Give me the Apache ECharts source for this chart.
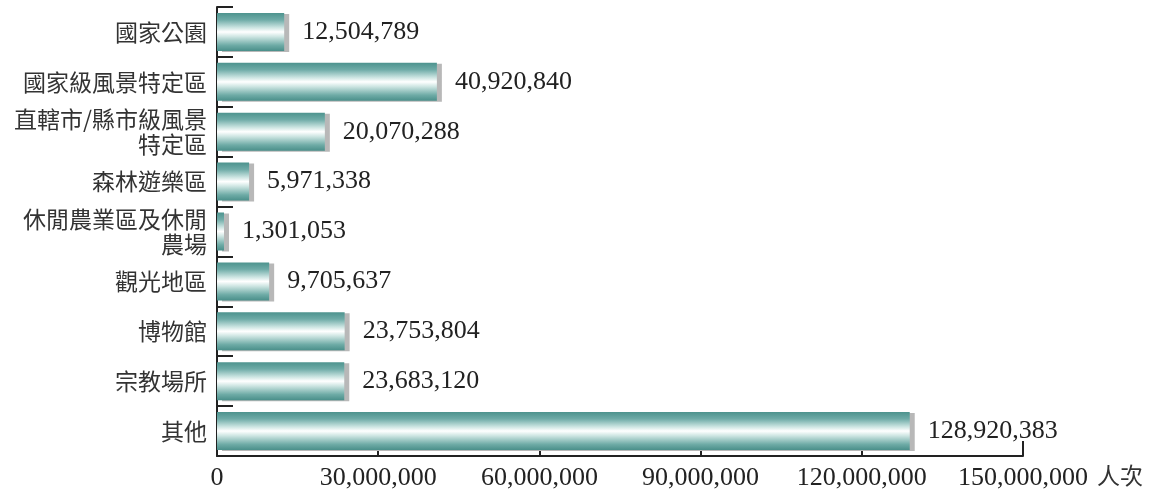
<!DOCTYPE html>
<html>
<head>
<meta charset="utf-8">
<script src="https://cdn.jsdelivr.net/npm/echarts@6/dist/echarts.min.js"></script>
<style>
html,body{margin:0;padding:0;background:#fff;}
#c{width:1151px;height:497px;}
</style>
</head>
<body>
<div id="c"></div>
<script>
const categories = ['國家公園', '國家級風景特定區', '直轄市/縣市級風景\n特定區', '森林遊樂區', '休閒農業區及休閒\n農場', '觀光地區', '博物館', '宗教場所', '其他'];
const visitors = [12504789, 40920840, 20070288, 5971338, 1301053, 9705637, 23753804, 23683120, 128920383];
const xTicks = { min: 0, max: 150000000, interval: 30000000 };
const unitLabel = '人次';

const fmt = v => Number(v).toLocaleString('en-US');
const chart = echarts.init(document.getElementById('c'));
const serif = '"Liberation Serif", "Times New Roman", serif';
const cjk = '"Noto Sans CJK TC", "Noto Sans CJK SC", sans-serif';
const barGrad = new echarts.graphic.LinearGradient(0, 0, 0, 1, [
  { offset: 0, color: '#4d938e' },
  { offset: 0.18, color: '#6eaba7' },
  { offset: 0.38, color: '#c9e3e0' },
  { offset: 0.5, color: '#ffffff' },
  { offset: 0.62, color: '#cfe6e3' },
  { offset: 0.85, color: '#6eaba6' },
  { offset: 1, color: '#4a8f8a' }
]);

chart.setOption({
  animation: false,
  backgroundColor: '#fff',
  grid: { left: 217, right: 128, top: 7, bottom: 41, containLabel: false },
  xAxis: {
    type: 'value',
    min: xTicks.min, max: xTicks.max, interval: xTicks.interval,
    axisLine: { show: true, lineStyle: { color: '#222', width: 2 } },
    axisTick: { show: true, inside: true, length: 15, lineStyle: { color: '#222', width: 2 } },
    splitLine: { show: false },
    axisLabel: { fontFamily: serif, fontSize: 26, color: '#222', margin: 9, formatter: fmt }
  },
  yAxis: {
    type: 'category',
    inverse: true,
    data: categories,
    axisLine: { show: true, lineStyle: { color: '#222', width: 2 } },
    axisTick: { show: true, inside: true, length: 16, lineStyle: { color: '#222', width: 2 } },
    axisLabel: { fontFamily: cjk, fontSize: 23, color: '#333', margin: 10, lineHeight: 25, align: 'right' }
  },
  graphic: [{
    type: 'text', left: 1097, top: 464,
    style: { text: unitLabel, font: '23px ' + cjk, fill: '#333' }
  }],
  series: [{
    type: 'bar',
    data: visitors,
    barWidth: 38,
    itemStyle: {
      color: barGrad,
      shadowColor: '#b8b8b8',
      shadowOffsetX: 5,
      shadowOffsetY: 1,
      shadowBlur: 0
    },
    label: {
      show: true, position: 'right', distance: 18,
      fontFamily: serif, fontSize: 26, color: '#222',
      formatter: p => fmt(p.value)
    }
  }]
});
</script>
</body>
</html>
